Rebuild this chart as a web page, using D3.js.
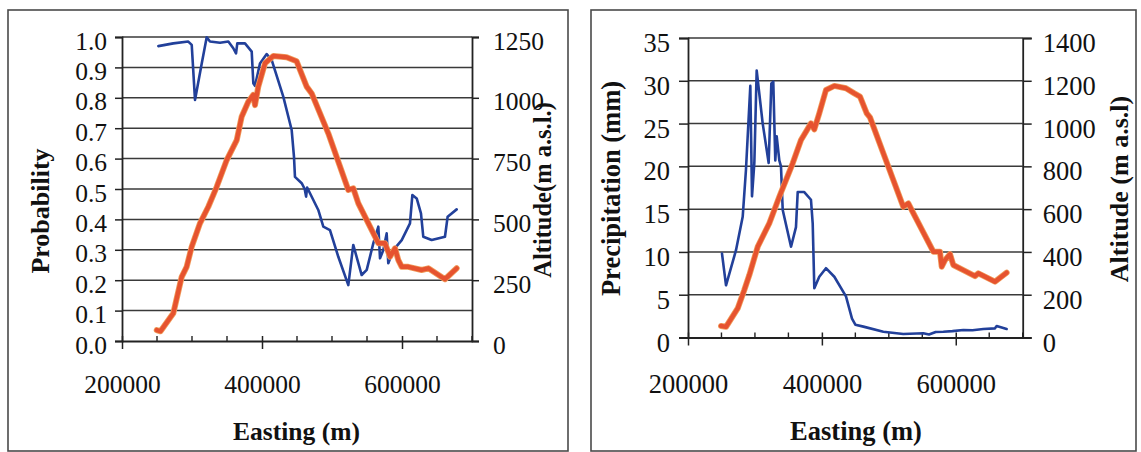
<!DOCTYPE html>
<html>
<head>
<meta charset="utf-8">
<script src="https://cdn.jsdelivr.net/npm/d3@7"></script>
<style>
  html, body { margin: 0; padding: 0; background: #ffffff; }
  svg { display: block; }
</style>
</head>
<body>
<svg id="chart" width="1141" height="452"></svg>
<script>
// ---------- DATA ----------
// Left chart: probability (primary) and altitude (secondary) vs easting
const eastingProb = [251900, 273300, 294700, 299600, 304300, 313900, 321000, 325700, 340000, 351900,
  359000, 362900, 364700, 375700, 385300, 387600, 390000, 397100, 406700, 413900,
  430400, 442400, 445700, 447100, 456700, 461000, 463000, 464500, 480400, 487600,
  497100, 509000, 523300, 530400, 542400, 549600, 559000, 566200, 568600, 573300,
  578100, 580400, 587600, 599600, 611400, 614800, 621000, 627100, 630400, 642400,
  661400, 665200, 678100];
const probability = [0.970, 0.979, 0.985, 0.974, 0.793, 0.913, 0.999, 0.985, 0.981, 0.985,
  0.963, 0.946, 0.979, 0.979, 0.952, 0.848, 0.839, 0.913, 0.944, 0.924,
  0.804, 0.694, 0.606, 0.540, 0.519, 0.500, 0.475, 0.505, 0.431, 0.376,
  0.365, 0.277, 0.184, 0.316, 0.217, 0.234, 0.321, 0.376, 0.272, 0.299,
  0.354, 0.256, 0.299, 0.332, 0.387, 0.480, 0.469, 0.420, 0.343, 0.332,
  0.343, 0.409, 0.433];

const eastingAltLeft = [249600, 255000, 273300, 285300, 292400, 299600, 311400, 323300, 335300, 349600,
  363900, 370900, 380400, 387600, 390000, 394700, 404300, 416200, 435200, 449500,
  463800, 471000, 494700, 523300, 530400, 537600, 566200, 575700, 582900, 590000,
  594700, 599600, 609000, 628100, 637600, 661400, 678100];
const altitudeLeft = [45, 40, 114, 264, 305, 388, 484, 552, 634, 744,
  826, 922, 984, 1012, 970, 1046, 1142, 1172, 1167, 1150,
  1046, 1018, 854, 621, 628, 566, 402, 402, 347, 381,
  333, 305, 305, 292, 299, 254, 299];

// Right chart: precipitation (primary) and altitude (secondary) vs easting
const eastingPrecip = [250800, 256800, 271700, 281700, 286600, 293100, 295600, 299100, 302600, 311600,
  320500, 324500, 327400, 330400, 332500, 336400, 338900, 341500, 353900, 361300,
  363900, 368800, 373700, 383700, 386300, 388700, 396100, 406100, 418600, 436000,
  445000, 450000, 462000, 491800, 521600, 551500, 560000, 570000, 581400, 595000,
  611300, 625000, 641200, 658600, 661100, 676000];
const precipitation = [9.8, 6.1, 10.2, 14.1, 19.6, 29.4, 16.5, 20.4, 31.2, 25.0,
  20.4, 29.7, 29.9, 20.7, 23.5, 20.7, 20.0, 14.9, 10.6, 12.9,
  17.0, 17.0, 17.0, 16.1, 13.3, 5.75, 7.1, 8.1, 7.1, 4.8,
  2.2, 1.5, 1.27, 0.68, 0.41, 0.49, 0.35, 0.65, 0.68, 0.75,
  0.88, 0.85, 0.99, 1.07, 1.34, 0.99];

const eastingAltRight = [249300, 256800, 274200, 284100, 291600, 304100, 321500, 336400, 356400, 368800,
  383700, 388700, 396100, 406100, 418600, 436000, 448500, 457000, 467000, 471900,
  491800, 521600, 529100, 536600, 566500, 576400, 579000, 583900, 591400, 596300,
  611300, 628700, 633700, 658600, 676000];
const altitudeRight = [54, 50, 136, 222, 292, 424, 534, 658, 814, 923,
  1001, 973, 1048, 1157, 1176, 1165, 1141, 1126, 1048, 1029,
  861, 611, 627, 581, 401, 401, 331, 362, 390, 339,
  315, 287, 300, 261, 303];

// Tick values / labels
const eastingDomain = [200000, 700000];
const eastingTicks = [200000, 400000, 600000];
const eastingMinorTicks = [250000, 300000, 350000, 450000, 500000, 550000, 650000, 700000];
const probTicks = [0, 0.1, 0.2, 0.3, 0.4, 0.5, 0.6, 0.7, 0.8, 0.9, 1.0];
const altTicksLeft = [0, 250, 500, 750, 1000, 1250];
const precipTicks = [0, 5, 10, 15, 20, 25, 30, 35];
const altTicksRight = [0, 200, 400, 600, 800, 1000, 1200, 1400];

// ---------- DRAWING ----------
const svg = d3.select("#chart");
const SERIF = "'Liberation Serif', 'Times New Roman', serif";
const BLUE = "#22409a";
const RED = "#e6532f";
const INK = "#111111";

function drawPanel(cfg) {
  const g = svg.append("g");
  // frame
  g.append("rect")
    .attr("x", cfg.frame[0]).attr("y", cfg.frame[1])
    .attr("width", cfg.frame[2]).attr("height", cfg.frame[3])
    .attr("fill", "none").attr("stroke", "#4a4a4a").attr("stroke-width", 1.6);

  const x = d3.scaleLinear().domain(eastingDomain).range([cfg.left, cfg.right]);
  const yL = d3.scaleLinear().domain(cfg.leftDomain).range([cfg.bottom, cfg.top]);
  const yR = d3.scaleLinear().domain(cfg.rightDomain).range([cfg.bottom, cfg.top]);

  // gridlines
  g.append("g").selectAll("line").data(cfg.leftTicks.slice(1)).join("line")
    .attr("x1", cfg.left).attr("x2", cfg.right)
    .attr("y1", d => yL(d)).attr("y2", d => yL(d))
    .attr("stroke", "#3a3a3a").attr("stroke-width", 1.5);

  // left axis
  const axL = g.append("g").attr("transform", `translate(${cfg.left},0)`)
    .call(d3.axisLeft(yL).tickValues(cfg.leftTicks).tickFormat(cfg.leftFormat)
      .tickSize(cfg.tickLen).tickPadding(0));
  axL.select(".domain").attr("stroke", "#222").attr("stroke-width", 1.8);
  axL.selectAll(".tick line").attr("stroke", "#222").attr("stroke-width", 1.5);
  axL.selectAll(".tick text")
    .attr("x", cfg.leftLabelEnd - cfg.left).attr("dy", null).attr("y", cfg.labelDy)
    .attr("font-family", SERIF).attr("font-size", cfg.fs).attr("fill", INK);

  // right axis
  const axR = g.append("g").attr("transform", `translate(${cfg.right},0)`)
    .call(d3.axisRight(yR).tickValues(cfg.rightTicks).tickFormat(d3.format("d"))
      .tickSize(cfg.tickLen).tickPadding(0));
  axR.select(".domain").attr("stroke", "#222").attr("stroke-width", 1.8);
  axR.selectAll(".tick line").attr("stroke", "#222").attr("stroke-width", 1.5);
  axR.selectAll(".tick text")
    .attr("x", cfg.rightLabelStart).attr("dy", null).attr("y", cfg.labelDy)
    .attr("font-family", SERIF).attr("font-size", cfg.fs).attr("fill", INK);

  // bottom axis (major)
  const axB = g.append("g").attr("transform", `translate(0,${cfg.bottom})`)
    .call(d3.axisBottom(x).tickValues(eastingTicks).tickFormat(d3.format("d"))
      .tickSizeInner(8).tickSizeOuter(0).tickPadding(0));
  axB.select(".domain").attr("stroke", "#222").attr("stroke-width", 1.8);
  axB.selectAll(".tick line").attr("y1", -5).attr("stroke", "#222").attr("stroke-width", 1.5);
  axB.selectAll(".tick text")
    .attr("y", cfg.xLabelBaseline - cfg.bottom).attr("dy", null)
    .attr("font-family", SERIF).attr("font-size", cfg.fs).attr("fill", INK);
  // minor ticks
  g.append("g").selectAll("line").data(eastingMinorTicks).join("line")
    .attr("x1", d => x(d)).attr("x2", d => x(d))
    .attr("y1", cfg.bottom).attr("y2", cfg.bottom - 5)
    .attr("stroke", "#222").attr("stroke-width", 1.4);

  // series
  const lineL = d3.line().x(d => x(d[0])).y(d => yL(d[1]));
  const lineR = d3.line().x(d => x(d[0])).y(d => yR(d[1]));
  const primary = cfg.primaryE.map((e, i) => [e, cfg.primaryV[i]]);
  const secondary = cfg.secondaryE.map((e, i) => [e, cfg.secondaryV[i]]);

  g.append("path").datum(primary).attr("d", lineL)
    .attr("fill", "none").attr("stroke", BLUE).attr("stroke-width", 2.6)
    .attr("stroke-linejoin", "round").attr("stroke-linecap", "round");
  g.append("path").datum(secondary).attr("d", lineR)
    .attr("fill", "none").attr("stroke", "#f09a5a").attr("stroke-width", 6)
    .attr("stroke-linejoin", "round").attr("stroke-linecap", "round");
  g.append("path").datum(secondary).attr("d", lineR)
    .attr("fill", "none").attr("stroke", RED).attr("stroke-width", 4.4)
    .attr("stroke-linejoin", "round").attr("stroke-linecap", "round");

  // axis titles
  g.append("text").text(cfg.leftTitle)
    .attr("transform", `translate(${cfg.leftTitlePos[0]},${cfg.leftTitlePos[1]}) rotate(-90)`)
    .attr("text-anchor", "middle").attr("dy", "0.25em")
    .attr("font-family", SERIF).attr("font-weight", "bold")
    .attr("font-size", cfg.leftTitleFs).attr("fill", INK);
  g.append("text").text(cfg.rightTitle)
    .attr("transform", `translate(${cfg.rightTitlePos[0]},${cfg.rightTitlePos[1]}) rotate(-90)`)
    .attr("text-anchor", "middle").attr("dy", "0.25em")
    .attr("font-family", SERIF).attr("font-weight", "bold")
    .attr("font-size", cfg.rightTitleFs).attr("fill", INK);
  g.append("text").text("Easting (m)")
    .attr("x", cfg.xTitlePos[0]).attr("y", cfg.xTitlePos[1])
    .attr("text-anchor", "middle")
    .attr("font-family", SERIF).attr("font-weight", "bold")
    .attr("font-size", cfg.xTitleFs).attr("fill", INK);
}

drawPanel({
  frame: [8, 10, 560, 441],
  left: 122, right: 472, top: 37, bottom: 341,
  leftDomain: [0, 1], rightDomain: [0, 1250],
  leftTicks: probTicks, rightTicks: altTicksLeft,
  leftFormat: d3.format(".1f"),
  tickLen: 7, fs: 25.5, labelDy: 12,
  leftLabelEnd: 107, rightLabelStart: 21,
  xLabelBaseline: 393,
  primaryE: eastingProb, primaryV: probability,
  secondaryE: eastingAltLeft, secondaryV: altitudeLeft,
  leftTitle: "Probability", leftTitlePos: [42, 211], leftTitleFs: 26,
  rightTitle: "Altitude(m a.s.l.)", rightTitlePos: [545, 190], rightTitleFs: 24.5,
  xTitlePos: [296.5, 440], xTitleFs: 25.5
});

drawPanel({
  frame: [591, 10, 545, 441],
  left: 688, right: 1022.7, top: 38, bottom: 337.5,
  leftDomain: [0, 35], rightDomain: [0, 1400],
  leftTicks: precipTicks, rightTicks: altTicksRight,
  leftFormat: d3.format("d"),
  tickLen: 9, fs: 26.5, labelDy: 13.5,
  leftLabelEnd: 670, rightLabelStart: 20,
  xLabelBaseline: 393,
  primaryE: eastingPrecip, primaryV: precipitation,
  secondaryE: eastingAltRight, secondaryV: altitudeRight,
  leftTitle: "Precipitation (mm)", leftTitlePos: [613, 188.5], leftTitleFs: 26.5,
  rightTitle: "Altitude (m a.s.l)", rightTitlePos: [1121, 189], rightTitleFs: 26,
  xTitlePos: [856, 440], xTitleFs: 26.5
});
</script>
</body>
</html>
